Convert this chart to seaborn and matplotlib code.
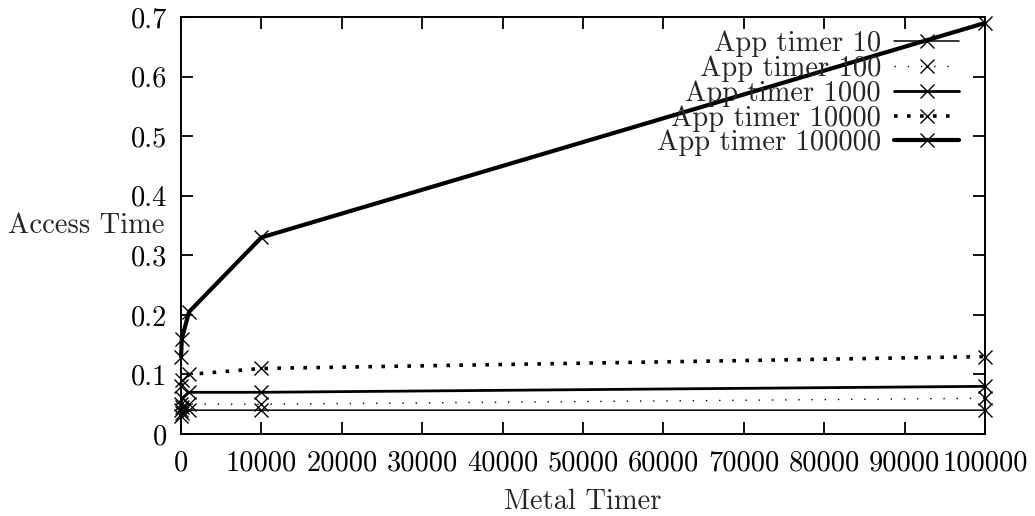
import numpy as np
import pandas as pd
import matplotlib
matplotlib.use("Agg")
import matplotlib.pyplot as plt
import seaborn as sns

# Metal timer settings (x axis)
metal_timer = [10, 100, 1000, 10000, 100000]

# Measured access time for each application timer setting
app_timer_10 = [0.03, 0.035, 0.04, 0.04, 0.04]
app_timer_100 = [0.04, 0.045, 0.05, 0.05, 0.06]
app_timer_1000 = [0.05, 0.06, 0.07, 0.07, 0.08]
app_timer_10000 = [0.08, 0.09, 0.10, 0.11, 0.13]
app_timer_100000 = [0.13, 0.16, 0.205, 0.33, 0.69]

series_labels = ["App timer 10", "App timer 100", "App timer 1000",
                 "App timer 10000", "App timer 100000"]
series_values = [app_timer_10, app_timer_100, app_timer_1000,
                 app_timer_10000, app_timer_100000]

x_ticks = [0, 10000, 20000, 30000, 40000, 50000, 60000, 70000, 80000, 90000, 100000]
y_ticks = [0, 0.1, 0.2, 0.3, 0.4, 0.5, 0.6, 0.7]

sns.set_style("ticks")
plt.rcParams["font.family"] = ["cmr10", "DejaVu Serif"]
plt.rcParams["axes.formatter.use_mathtext"] = True
FS = 20.5

# line width and dash pattern per series
styles = [
    dict(lw=1.1, ls="-"),
    dict(lw=1.0, ls=(0, (1, 8.5))),
    dict(lw=2.0, ls="-"),
    dict(lw=2.6, ls=(0, (1, 2.6))),
    dict(lw=3.0, ls="-"),
]

fig = plt.figure(figsize=(10.35, 5.16), dpi=100)
ax = fig.add_axes([181 / 1035, 82 / 516, 804 / 1035, 417 / 516])

for label, vals, st in zip(series_labels, series_values, styles):
    df = pd.DataFrame({"metal": metal_timer, "access": vals})
    sns.lineplot(data=df, x="metal", y="access", ax=ax, color="black",
                 linewidth=st["lw"], linestyle=st["ls"], marker="x",
                 markersize=10, markeredgewidth=1.0, markeredgecolor="black",
                 label=label, clip_on=False, dash_capstyle="butt")

ax.set_xlim(0, 100000)
ax.set_ylim(0, 0.7)
ax.set_xticks(x_ticks)
ax.set_xticklabels([str(v) for v in x_ticks])
ax.set_yticks(y_ticks)
ax.set_yticklabels([f"{v:g}" for v in y_ticks])
ax.tick_params(axis="both", direction="in", length=8.5, width=1.3,
               top=True, right=True, labelsize=FS, colors="black")
ax.tick_params(axis="x", pad=12)
ax.tick_params(axis="y", pad=10)
for sp in ax.spines.values():
    sp.set_linewidth(1.4)
    sp.set_color("black")
    sp.set_visible(True)

ax.set_xlabel("Metal Timer", fontsize=FS, labelpad=8.5)
ax.set_ylabel("Access Time", fontsize=FS, rotation=0, ha="right", va="center")
ax.yaxis.set_label_coords(-0.02, 0.50)

leg = ax.legend(loc="upper right", bbox_to_anchor=(0.968, 0.967), frameon=False,
                markerfirst=False, fontsize=FS, handlelength=2.3,
                handletextpad=0.45, labelspacing=-0.06, borderpad=0,
                borderaxespad=0, numpoints=1)

fig.savefig("out.png", dpi=100)
